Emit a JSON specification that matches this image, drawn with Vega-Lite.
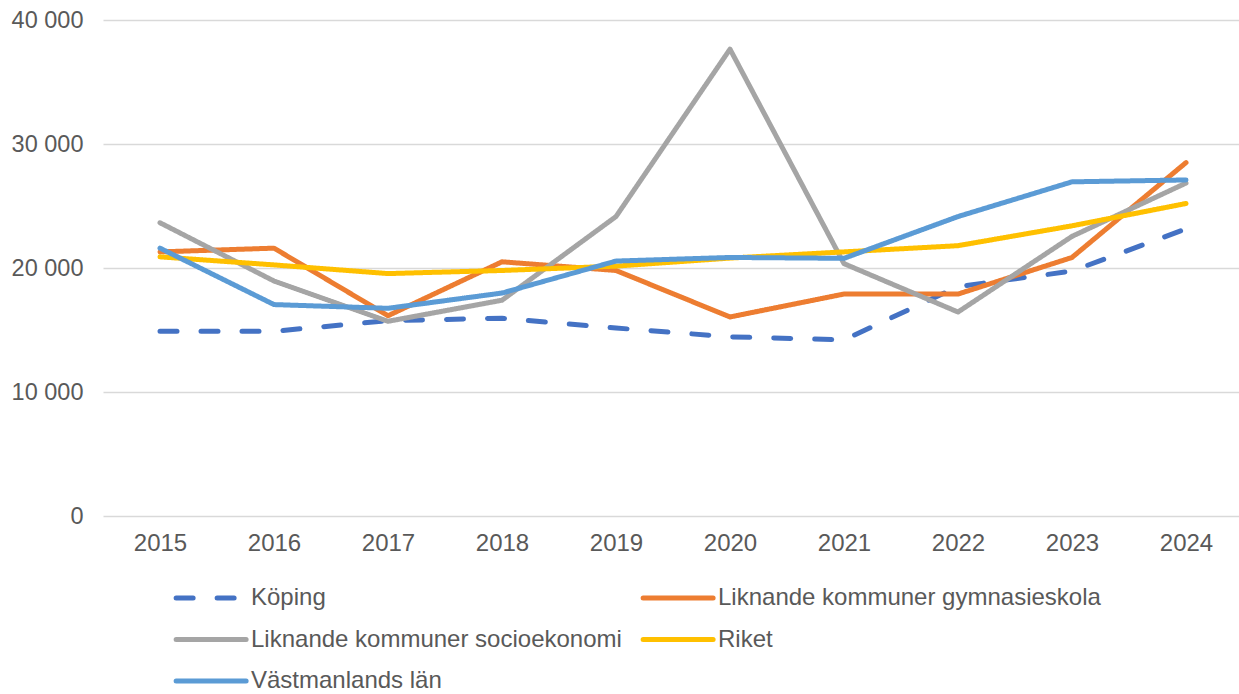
{
  "$schema": "https://vega.github.io/schema/vega-lite/v6.json",
  "width": 1140,
  "height": 496,
  "autosize": "none",
  "padding": {"left": 103, "top": 20, "right": 0, "bottom": 178},
  "background": "white",
  "data": {
    "values": [
      {"year": "2015", "series": "Köping", "value": 14900},
      {"year": "2016", "series": "Köping", "value": 14900},
      {"year": "2017", "series": "Köping", "value": 15750},
      {"year": "2018", "series": "Köping", "value": 15950},
      {"year": "2019", "series": "Köping", "value": 15160},
      {"year": "2020", "series": "Köping", "value": 14450},
      {"year": "2021", "series": "Köping", "value": 14200},
      {"year": "2022", "series": "Köping", "value": 18500},
      {"year": "2023", "series": "Köping", "value": 19750},
      {"year": "2024", "series": "Köping", "value": 23150},
      {"year": "2015", "series": "Liknande kommuner gymnasieskola", "value": 21300},
      {"year": "2016", "series": "Liknande kommuner gymnasieskola", "value": 21600},
      {"year": "2017", "series": "Liknande kommuner gymnasieskola", "value": 16150},
      {"year": "2018", "series": "Liknande kommuner gymnasieskola", "value": 20500},
      {"year": "2019", "series": "Liknande kommuner gymnasieskola", "value": 19800},
      {"year": "2020", "series": "Liknande kommuner gymnasieskola", "value": 16050},
      {"year": "2021", "series": "Liknande kommuner gymnasieskola", "value": 17900},
      {"year": "2022", "series": "Liknande kommuner gymnasieskola", "value": 17900},
      {"year": "2023", "series": "Liknande kommuner gymnasieskola", "value": 20850},
      {"year": "2024", "series": "Liknande kommuner gymnasieskola", "value": 28500},
      {"year": "2015", "series": "Liknande kommuner socioekonomi", "value": 23650},
      {"year": "2016", "series": "Liknande kommuner socioekonomi", "value": 18950},
      {"year": "2017", "series": "Liknande kommuner socioekonomi", "value": 15700},
      {"year": "2018", "series": "Liknande kommuner socioekonomi", "value": 17400},
      {"year": "2019", "series": "Liknande kommuner socioekonomi", "value": 24150},
      {"year": "2020", "series": "Liknande kommuner socioekonomi", "value": 37650},
      {"year": "2021", "series": "Liknande kommuner socioekonomi", "value": 20350},
      {"year": "2022", "series": "Liknande kommuner socioekonomi", "value": 16450},
      {"year": "2023", "series": "Liknande kommuner socioekonomi", "value": 22550},
      {"year": "2024", "series": "Liknande kommuner socioekonomi", "value": 26850},
      {"year": "2015", "series": "Riket", "value": 20900},
      {"year": "2016", "series": "Riket", "value": 20250},
      {"year": "2017", "series": "Riket", "value": 19550},
      {"year": "2018", "series": "Riket", "value": 19800},
      {"year": "2019", "series": "Riket", "value": 20150},
      {"year": "2020", "series": "Riket", "value": 20800},
      {"year": "2021", "series": "Riket", "value": 21300},
      {"year": "2022", "series": "Riket", "value": 21800},
      {"year": "2023", "series": "Riket", "value": 23400},
      {"year": "2024", "series": "Riket", "value": 25200},
      {"year": "2015", "series": "Västmanlands län", "value": 21600},
      {"year": "2016", "series": "Västmanlands län", "value": 17050},
      {"year": "2017", "series": "Västmanlands län", "value": 16750},
      {"year": "2018", "series": "Västmanlands län", "value": 17980},
      {"year": "2019", "series": "Västmanlands län", "value": 20560},
      {"year": "2020", "series": "Västmanlands län", "value": 20850},
      {"year": "2021", "series": "Västmanlands län", "value": 20780},
      {"year": "2022", "series": "Västmanlands län", "value": 24150},
      {"year": "2023", "series": "Västmanlands län", "value": 26950},
      {"year": "2024", "series": "Västmanlands län", "value": 27100}
    ]
  },
  "mark": {"type": "line", "strokeWidth": 5, "strokeCap": "round", "strokeJoin": "round"},
  "encoding": {
    "x": {
      "field": "year",
      "type": "ordinal",
      "scale": {"type": "point", "padding": 0.5},
      "axis": {
        "title": null,
        "labelAngle": 0,
        "ticks": false,
        "domain": false,
        "grid": false,
        "labelFont": "Liberation Sans",
        "labelFontSize": 24,
        "labelColor": "#595959",
        "labelPadding": 15
      }
    },
    "y": {
      "field": "value",
      "type": "quantitative",
      "scale": {"domain": [0, 40000]},
      "axis": {
        "title": null,
        "values": [0, 10000, 20000, 30000, 40000],
        "labelExpr": "replace(format(datum.value, ','), ',', ' ')",
        "ticks": false,
        "domain": false,
        "grid": true,
        "gridColor": "#d9d9d9",
        "gridWidth": 1.5,
        "labelFont": "Liberation Sans",
        "labelFontSize": 23.5,
        "labelColor": "#595959",
        "labelPadding": 20
      }
    },
    "color": {
      "field": "series",
      "type": "nominal",
      "scale": {
        "domain": ["Köping", "Liknande kommuner gymnasieskola", "Liknande kommuner socioekonomi", "Riket", "Västmanlands län"],
        "range": ["#4472c4", "#ed7d31", "#a5a5a5", "#ffc000", "#5b9bd5"]
      },
      "legend": {
        "title": null,
        "orient": "none",
        "legendX": 68,
        "legendY": 558,
        "direction": "horizontal",
        "columns": 2,
        "columnPadding": 11,
        "rowPadding": 9.5,
        "padding": 0,
        "symbolType": "M-0.85,0L3.15,0",
        "symbolSize": 1225,
        "symbolStrokeWidth": 5,
        "labelFont": "Liberation Sans",
        "labelFontSize": 24,
        "labelColor": "#595959",
        "labelOffset": 40,
        "labelLimit": 600,
        "encode": {"symbols": {"update": {"strokeCap": {"value": "round"}}}}
      }
    },
    "strokeDash": {
      "field": "series",
      "type": "nominal",
      "scale": {
        "domain": ["Köping", "Liknande kommuner gymnasieskola", "Liknande kommuner socioekonomi", "Riket", "Västmanlands län"],
        "range": [[17, 24], [1, 0], [1, 0], [1, 0], [1, 0]]
      },
      "legend": null
    }
  },
  "config": {
    "view": {"stroke": null},
    "font": "Liberation Sans"
  }
}
